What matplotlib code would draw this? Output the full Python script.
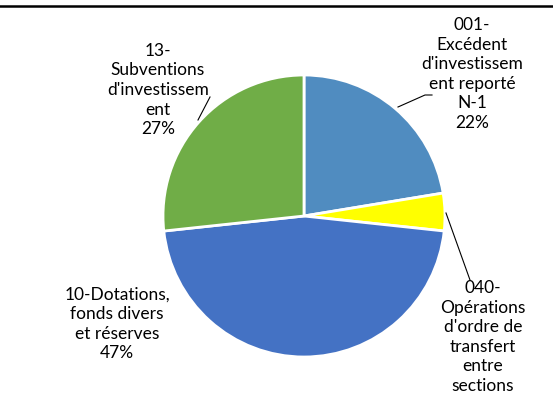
import matplotlib.pyplot as plt

# values (percent)
labels = ["001-\nExcédent\nd'investissem\nent reporté\nN-1\n22%",
          "040-\nOpérations\nd'ordre de\ntransfert\nentre\nsections",
          "10-Dotations,\nfonds divers\net réserves\n47%",
          "13-\nSubventions\nd'investissem\nent\n27%"]
values = [22.4, 4.3, 46.6, 26.7]
colors = ['#508CC0', '#FFFF00', '#4472C4', '#70AD47']

W, H = 553, 405
fig = plt.figure(figsize=(W / 100, H / 100), dpi=100)
ax = fig.add_axes([0, 0, 1, 1])

cx, cy, r = 304, H - 216, 141
ax.pie(values, colors=colors, startangle=90, counterclock=False,
       center=(cx, cy), radius=r, frame=True,
       wedgeprops=dict(edgecolor='white', linewidth=2))
ax.set_xlim(0, W)
ax.set_ylim(0, H)
ax.set_aspect('equal')
ax.axis('off')

# label positions (pixel coords from top)
label_pos = [(472, 74), (483, 337), (117, 324), (158, 90)]
for text, (x, y) in zip(labels, label_pos):
    ax.text(x, H - y, text, ha='center', va='center', fontsize=12.5,
            family='Lato', linespacing=1.27, color='#000000')

# leader lines
ax.plot([398, 425, 432], [H - 107, H - 95, H - 95], color='black', lw=0.8)
ax.plot([446, 470], [H - 213, H - 280], color='black', lw=0.8)
ax.plot([210, 198], [H - 97, H - 120], color='black', lw=0.8)

# top border
fig.add_artist(plt.Line2D([0, 1], [1 - 6 / H, 1 - 6 / H], color='black', lw=1.8,
                          transform=fig.transFigure))

fig.savefig('out.png', dpi=100)
